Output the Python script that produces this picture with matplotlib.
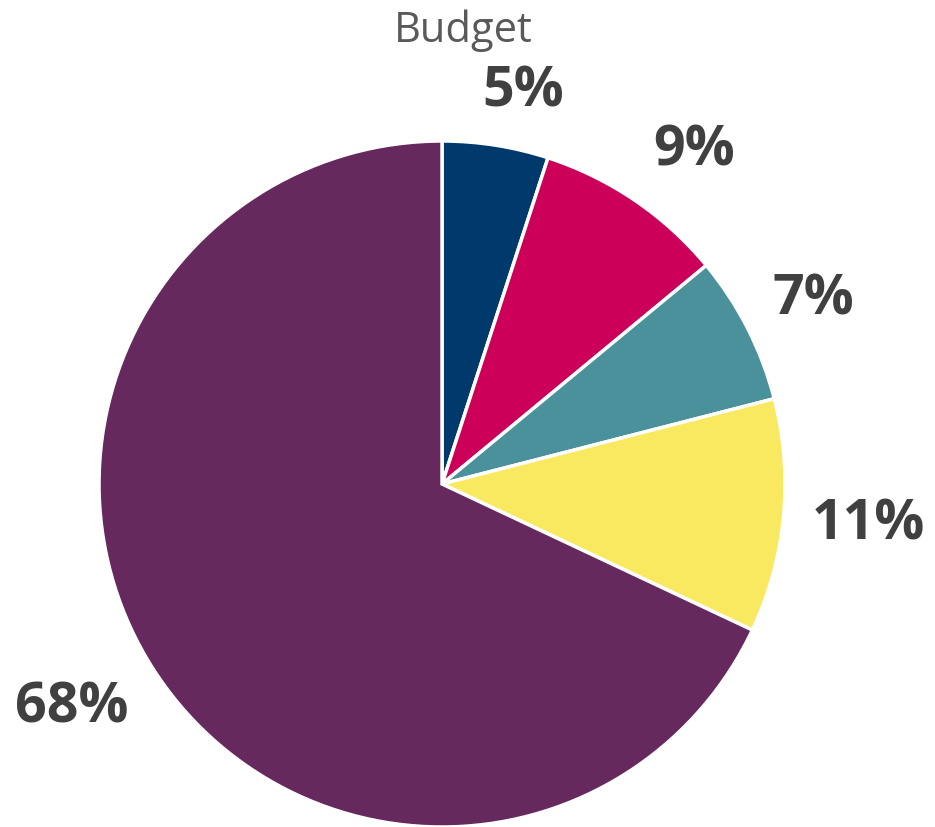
import numpy as np
import matplotlib
matplotlib.use("Agg")
import matplotlib.pyplot as plt

# budget shares, clockwise from 12 o'clock
shares = [5, 9, 7, 11, 68]
colors = ['#003A6C', '#CC0059', '#4A919B', '#F9E960', '#66295E']
title = 'Budget'

# label placement tweaks (radius factor, angle offset in degrees)
label_r = [1.17, 1.22, 1.21, 1.25, 1.26]
label_dang = [-2.6, -2.8, -0.5, 0.0, -1.4]

plt.rcParams['font.family'] = ['Open Sans', 'DejaVu Sans']

fig = plt.figure(figsize=(9.35, 8.28), dpi=100)
ax = fig.add_axes([0.1059, 0.0, 0.7337, 0.8285])
wedges, texts, autotexts = ax.pie(
    shares, colors=colors, startangle=90, counterclock=False,
    autopct='%d%%', pctdistance=1.23,
    wedgeprops=dict(edgecolor='white', linewidth=2.5),
    textprops=dict(fontsize=40, fontweight='bold', color='#404040'))
for w, t, r, da in zip(wedges, autotexts, label_r, label_dang):
    ang = np.deg2rad((w.theta1 + w.theta2) / 2 + da)
    t.set_position((r * np.cos(ang), r * np.sin(ang)))
ax.set_aspect('equal')
ax.set_xlim(-1.0, 1.0)
ax.set_ylim(-1.0, 1.0)

fig.text(0.495, 0.949, title, ha='center', va='baseline', fontsize=30, color='#595959')

fig.savefig('out.png', dpi=100)
